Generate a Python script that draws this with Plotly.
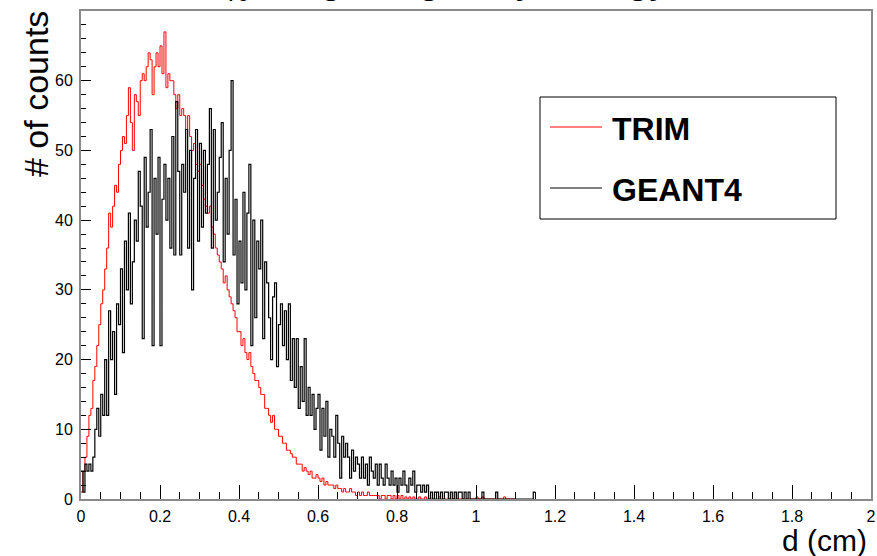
import plotly.graph_objects as go

# ---------------- data ----------------
bin_width = 0.005  # cm

trim_counts = [
    1, 4, 6, 9, 12, 13, 17, 19, 22, 25,
    28, 30, 33, 36, 41, 39, 42, 45, 44, 48,
    50, 52, 51, 55, 59, 54, 50, 58, 57, 55,
    60, 61, 60, 62, 64, 63, 58, 62, 64, 62,
    65, 61, 67, 59, 61, 60, 60, 58, 56, 58,
    55, 56, 55, 53, 55, 52, 50, 51, 48, 47,
    48, 45, 43, 42, 41, 42, 39, 38, 36, 35,
    34, 33, 31, 32, 30, 29, 28, 27, 26, 24,
    24, 22, 23, 21, 20, 21, 19, 18, 17, 17,
    16, 15, 15, 13, 13, 12, 11, 12, 10, 10,
    9, 9, 8, 8, 7, 7, 6.5, 6, 6, 5,
    5, 5, 4, 4.5, 4, 3.5, 4, 3, 3, 3.5,
    3, 2.5, 3, 2, 2.5, 2, 2, 2, 1.5, 2,
    1.5, 1.5, 1, 1.5, 1, 1, 1.5, 1, 1, 0.5,
    1, 0.5, 1, 0.5, 0.5, 1, 0.5, 0.5, 0.5, 0.5,
    0.5, 0, 0.5, 0.5, 0, 0.5, 0.5, 0, 0.5, 0,
    0.5, 0, 0.5, 0, 0.3, 0, 0.3, 0, 0.3, 0,
    0, 0.3, 0, 0, 0.3, 0, 0, 0, 0, 0,
    0, 0.3, 0, 0, 0, 0, 0, 0, 0, 0,
    0, 0, 0, 0, 0, 0, 0, 0, 0, 0,
    0.3, 0, 0, 0.3, 0, 0, 0, 0, 0, 0,
    0, 0, 0, 0, 0.3, 0, 0, 0, 0, 0,
]

geant4_counts = [
    4, 1, 5, 4, 5, 4, 6, 10, 13, 9,
    15, 12, 20, 12, 27, 20, 24, 15, 28, 25,
    33, 21, 37, 30, 41, 28, 34, 40, 37, 47,
    42, 23, 49, 39, 44, 53, 22, 46, 38, 49,
    22, 43, 48, 40, 46, 36, 52, 35, 57, 47,
    35, 48, 44, 53, 36, 50, 30, 46, 53, 37,
    51, 39, 50, 41, 48, 56, 36, 53, 40, 44,
    49, 54, 34, 46, 38, 50, 60, 35, 43, 28,
    37, 31, 44, 30, 41, 48, 22, 40, 26, 37,
    33, 40, 23, 34, 31, 26, 20, 29, 31, 19,
    25, 28, 22, 27, 20, 28, 17, 23, 16, 23,
    13, 19, 14, 23, 12, 16, 12, 15, 10, 13,
    15, 7, 13, 9, 14, 6, 10, 9, 6, 12,
    8, 3, 9, 6, 8, 6, 3, 7, 4, 6,
    5, 3, 6, 3, 5, 2, 6, 4, 3, 5,
    2, 5, 3, 2, 5, 3, 2, 4, 2, 3,
    1, 3, 2, 4, 2, 1, 3, 2, 4, 1,
    2, 2, 1, 2, 1, 2, 0, 1, 0, 1,
    1, 0, 1, 0, 1, 1, 0, 1, 0, 1,
    0, 1, 1, 0, 1, 0, 1, 0, 0, 0,
    0, 0, 0, 1, 0, 0, 0, 0, 0, 0,
    1, 0, 0, 0, 0, 0, 0, 0, 0, 0,
    0, 0, 0, 0, 0, 0, 0, 0, 0, 1,
]

series_names = ["TRIM", "GEANT4"]
x_tick_values = [0, 0.2, 0.4, 0.6, 0.8, 1, 1.2, 1.4, 1.6, 1.8, 2]
x_tick_labels = ["0", "0.2", "0.4", "0.6", "0.8", "1", "1.2", "1.4", "1.6", "1.8", "2"]
y_tick_values = [0, 10, 20, 30, 40, 50, 60]
y_tick_labels = ["0", "10", "20", "30", "40", "50", "60"]
plot_title = "Ar<sub>40</sub> range in gas by energy"


def step_xy(counts):
    edges = [i * bin_width for i in range(len(counts) + 1)]
    ys = list(counts) + [counts[-1]]
    return edges, ys


# ---------------- figure ----------------
W, H = 877, 556
ML, MR, MT, MB = 81, 6, 11, 57
PW, PH = W - ML - MR, H - MT - MB


def px(xp):
    return (xp - ML) / PW


def py(yp):
    return (H - MB - yp) / PH


fig = go.Figure()
tx, ty = step_xy(trim_counts)
gx, gy = step_xy(geant4_counts)
fig.add_trace(go.Scatter(x=tx, y=ty, mode="lines", name=series_names[0],
                         line=dict(color="#ff0000", width=1, shape="hv")))
fig.add_trace(go.Scatter(x=gx, y=gy, mode="lines", name=series_names[1],
                         line=dict(color="#000000", width=1.2, shape="hv")))

tickfont = dict(family="Liberation Sans, Arial, sans-serif", size=16, color="black")
fig.update_layout(
    width=W, height=H,
    margin=dict(l=ML, r=MR, t=MT, b=MB, pad=0, autoexpand=False),
    paper_bgcolor="white", plot_bgcolor="white",
    showlegend=False,
    xaxis=dict(range=[0, 2], tickvals=x_tick_values, ticktext=x_tick_labels,
               ticks="inside", ticklen=14, tickcolor="black", tickwidth=1,
               minor=dict(dtick=0.05, tick0=0, ticks="inside", ticklen=7,
                          tickcolor="black", tickwidth=1),
               showline=True, linecolor="#8a8a8a", linewidth=2, mirror=True,
               showgrid=False, zeroline=False, tickfont=tickfont, ticklabelstandoff=2,
               automargin=False),
    yaxis=dict(range=[0, 70], tickvals=y_tick_values, ticktext=y_tick_labels,
               ticks="inside", ticklen=10, tickcolor="black", tickwidth=1,
               minor=dict(dtick=2, tick0=0, ticks="inside", ticklen=5,
                          tickcolor="black", tickwidth=1),
               showline=True, linecolor="#8a8a8a", linewidth=2, mirror=True,
               showgrid=False, zeroline=False, tickfont=tickfont, ticklabelstandoff=3,
               automargin=False),
)

titlefont = dict(family="Liberation Sans, Arial, sans-serif", size=34, color="black")
fig.add_annotation(text="# of counts", xref="paper", yref="paper",
                   x=px(36), y=py(9), xanchor="center", yanchor="top",
                   textangle=-90, showarrow=False, font=titlefont)
fig.add_annotation(text="d (cm)", xref="paper", yref="paper",
                   x=px(869), y=py(540), xanchor="right", yanchor="middle",
                   showarrow=False, font=dict(family="Liberation Sans, Arial, sans-serif",
                                              size=30, color="black"))
# title of the canvas, mostly cut off at the top edge in the reference
fig.add_annotation(text=plot_title, xref="paper", yref="paper",
                   x=px(178), y=py(9), xanchor="left", yanchor="bottom",
                   showarrow=False, font=dict(family="Liberation Sans, Arial, sans-serif",
                                              size=40, color="black"))

# legend box drawn manually to match ROOT TLegend
fig.add_shape(type="rect", xref="paper", yref="paper",
              x0=px(540), x1=px(836), y0=py(219), y1=py(97),
              line=dict(color="black", width=1), fillcolor="white", layer="above")
fig.add_shape(type="line", xref="paper", yref="paper",
              x0=px(550), x1=px(602), y0=py(127), y1=py(127),
              line=dict(color="#ff0000", width=1), layer="above")
fig.add_shape(type="line", xref="paper", yref="paper",
              x0=px(550), x1=px(602), y0=py(188), y1=py(188),
              line=dict(color="black", width=1), layer="above")
legfont = dict(family="Liberation Sans, Arial, sans-serif", size=32, color="black")
fig.add_annotation(text="<b>%s</b>" % series_names[0], xref="paper", yref="paper",
                   x=px(610), y=py(129), xanchor="left", yanchor="middle",
                   showarrow=False, font=legfont)
fig.add_annotation(text="<b>%s</b>" % series_names[1], xref="paper", yref="paper",
                   x=px(610), y=py(190), xanchor="left", yanchor="middle",
                   showarrow=False, font=legfont)

fig.write_html("out.html")
